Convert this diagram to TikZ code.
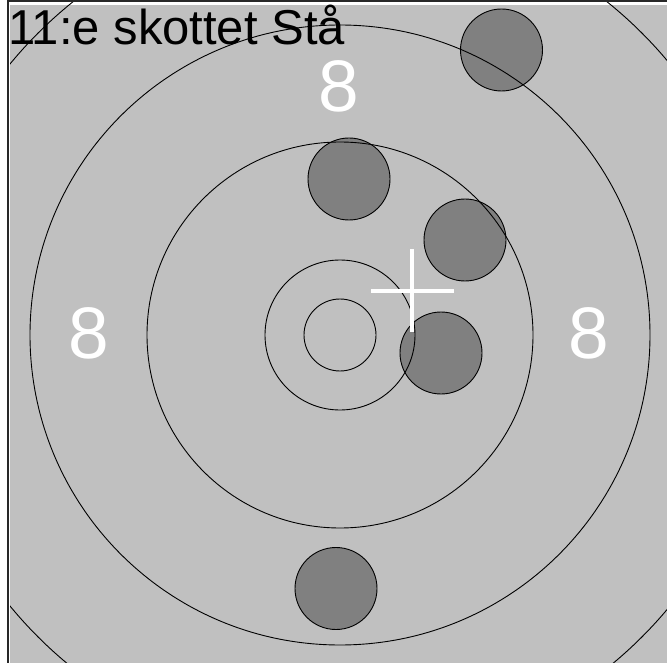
\documentclass[tikz,border=0pt]{standalone}
\usepackage{fontspec}
\setmainfont{Liberation Sans}
\definecolor{bgc}{RGB}{192,192,192}
\definecolor{shotc}{RGB}{128,128,128}
\definecolor{framec}{RGB}{40,40,40}
\tikzset{
  ringline/.style={draw=black, line width=0.9pt},
  shot/.style={circle, fill=shotc, draw=black, line width=0.9pt, minimum size=82pt, inner sep=0pt},
  scoretxt/.style={text=white, font=\fontsize{73}{73}\selectfont, inner sep=0pt, anchor=center},
  titletxt/.style={text=black, font=\fontsize{49}{49}\selectfont, inner sep=0pt, anchor=base west},
  cross/.style={draw=white, line width=3.5pt}
}
\begin{document}
\begin{tikzpicture}[x=1pt,y=-1pt]
\useasboundingbox (0,0) rectangle (667,663);
\fill[white] (0,0) rectangle (667,663);
\fill[bgc] (10,5) rectangle (667,663);
\draw[framec, line width=2.2pt] (7.7,663) -- (7.7,1.3) -- (667,1.3);
\coordinate (c) at (340,335);
% shots
\node[shot] (s1) at (501.5,50) {};
\node[shot] (s2) at (349,179) {};
\node[shot] (s3) at (465,240) {};
\node[shot] (s4) at (441,353) {};
\node[shot] (s5) at (336,588.5) {};
% rings
\begin{scope}
\clip (10,2.5) rectangle (667,663);
\draw[ringline] (c) circle[radius=36];
\draw[ringline] (c) circle[radius=75];
\draw[ringline] (c) circle[radius=193];
\draw[ringline] (c) circle[radius=310];
\draw[ringline] (c) circle[radius=427];
\end{scope}
% crosshair
\coordinate (hl) at (371,291);
\coordinate (hr) at (454,291);
\coordinate (vt) at (412,249);
\coordinate (vb) at (412,332);
\draw[cross] (hl) -- (hr);
\draw[cross] (vt) -- (vb);
% scores
\node[scoretxt] (top8) at (339,86.5) {8};
\node[scoretxt] (left8) at (88.5,333) {8};
\node[scoretxt] (right8) at (588.5,333) {8};
% title
\node[titletxt] (title) at (8,45) {11:e skottet Stå};
\end{tikzpicture}
\end{document}
